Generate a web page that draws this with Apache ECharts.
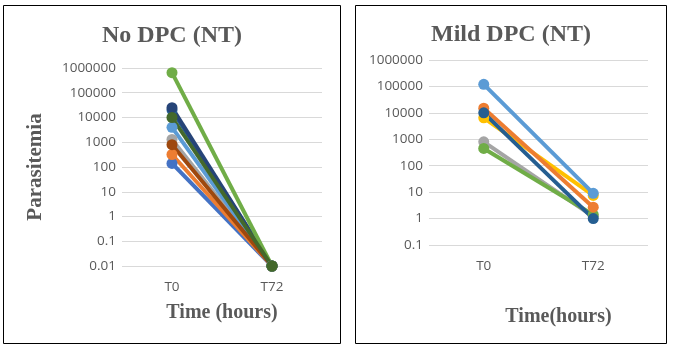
<!DOCTYPE html>
<html>
<head>
<meta charset="utf-8">
<script src="https://cdn.jsdelivr.net/npm/echarts@6/dist/echarts.min.js"></script>
<style>
html,body{margin:0;padding:0;background:#fff;}
#chart{width:674px;height:351px;}
</style>
</head>
<body>
<div id="chart"></div>
<script>
// ---- Data ----
const categories = ['T0', 'T72'];

// No DPC (NT) panel: parasitemia at T0 and T72
const ntBlue       = [140, 0.01];
const ntOrange     = [320, 0.01];
const ntGray       = [1300, 0.01];
const ntLightBlue  = [4000, 0.01];
const ntDarkOrange = [800, 0.01];
const ntNavy       = [25000, 0.01];
const ntSteel      = [20000, 0.01];
const ntGreen      = [650000, 0.01];
const ntDarkGreen  = [10000, 0.01];

// Mild DPC (NT) panel
const mildGray      = [800, 1.2];
const mildGreen     = [450, 1.4];
const mildYellow    = [6500, 7.5];
const mildOrange    = [15000, 2.7];
const mildLightBlue = [120000, 9];
const mildDarkBlue  = [10000, 1];

const leftTickLabels  = ['0.01','0.1','1','10','100','1000','10000','100000','1000000'];
const rightTickLabels = ['0.1','1','10','100','1000','10000','100000','1000000'];

// ---- Chart ----
const labelColor = '#595959';
const serif = '"Liberation Serif","Times New Roman",serif';
const sans = '"Open Sans","Liberation Sans",sans-serif';

function fmt(labels) {
  return function (v) {
    let best = labels[0], bd = Infinity;
    labels.forEach(function (l) {
      const d = Math.abs(Math.log10(parseFloat(l)) - Math.log10(v));
      if (d < bd) { bd = d; best = l; }
    });
    return best;
  };
}

function line(name, data, color, idx, size) {
  return {
    name: name, type: 'line', data: data,
    xAxisIndex: idx, yAxisIndex: idx,
    symbol: 'circle', symbolSize: size,
    lineStyle: { width: 4, color: color },
    itemStyle: { color: color },
    emphasis: { disabled: true },
    animation: false
  };
}

const chart = echarts.init(document.getElementById('chart'), null, { renderer: 'canvas' });
chart.setOption({
  backgroundColor: '#fff',
  animation: false,
  title: [
    { text: 'No DPC (NT)', left: 167, top: 19, textAlign: 'center',
      textStyle: { fontFamily: serif, fontWeight: 'bold', fontSize: 24, color: labelColor } },
    { text: 'Mild DPC (NT)', left: 506, top: 18, textAlign: 'center',
      textStyle: { fontFamily: serif, fontWeight: 'bold', fontSize: 24, color: labelColor } }
  ],
  graphic: [
    { type: 'rect', shape: { x: 3.5, y: 5.5, width: 337, height: 338 },
      style: { fill: null, stroke: '#000', lineWidth: 1 }, silent: true, z: -1 },
    { type: 'rect', shape: { x: 355.5, y: 5.5, width: 311, height: 338 },
      style: { fill: null, stroke: '#000', lineWidth: 1 }, silent: true, z: -1 }
  ],
  grid: [
    { left: 122, right: 352, top: 68, bottom: 85 },
    { left: 429, right: 26, top: 60, bottom: 106 }
  ],
  xAxis: [
    { type: 'category', data: categories, gridIndex: 0, boundaryGap: true,
      axisLine: { show: false }, axisTick: { show: false },
      axisLabel: { color: labelColor, fontFamily: sans, fontSize: 13.5, margin: 14 },
      name: 'Time (hours)', nameLocation: 'middle', nameGap: 37,
      nameTextStyle: { fontFamily: serif, fontWeight: 'bold', fontSize: 20, color: labelColor } },
    { type: 'category', data: categories, gridIndex: 1, boundaryGap: true,
      axisLine: { show: false }, axisTick: { show: false },
      axisLabel: { color: labelColor, fontFamily: sans, fontSize: 13.5, margin: 14 },
      name: 'Time(hours)', nameLocation: 'middle', nameGap: 62,
      nameTextStyle: { fontFamily: serif, fontWeight: 'bold', fontSize: 20, color: labelColor,
        padding: [0, 0, 0, 40] } }
  ],
  yAxis: [
    { type: 'log', logBase: 10, gridIndex: 0, min: 0.01, max: 1000000, interval: 1,
      axisLine: { show: false }, axisTick: { show: false },
      splitLine: { lineStyle: { color: '#d9d9d9', width: 1 } },
      axisLabel: { color: labelColor, fontFamily: sans, fontSize: 13.5, margin: 6, formatter: fmt(leftTickLabels) },
      name: 'Parasitemia', nameLocation: 'middle', nameGap: 76, nameRotate: 90,
      nameTextStyle: { fontFamily: serif, fontWeight: 'bold', fontSize: 21, color: labelColor } },
    { type: 'log', logBase: 10, gridIndex: 1, min: 0.1, max: 1000000, interval: 1,
      axisLine: { show: false }, axisTick: { show: false },
      splitLine: { lineStyle: { color: '#d9d9d9', width: 1 } },
      axisLabel: { color: labelColor, fontFamily: sans, fontSize: 13.5, margin: 6, formatter: fmt(rightTickLabels) } }
  ],
  series: [
    line('NT1', ntBlue, '#4472C4', 0, 11),
    line('NT2', ntOrange, '#ED7D31', 0, 11),
    line('NT3', ntGray, '#A5A5A5', 0, 11),
    line('NT4', ntLightBlue, '#5B9BD5', 0, 11),
    line('NT5', ntDarkOrange, '#9E480E', 0, 11),
    line('NT6', ntSteel, '#255E91', 0, 11),
    line('NT7', ntNavy, '#264478', 0, 11),
    line('NT8', ntGreen, '#70AD47', 0, 11),
    line('NT9', ntDarkGreen, '#43682B', 0, 11),
    line('M1', mildGray, '#A5A5A5', 1, 11),
    line('M2', mildGreen, '#70AD47', 1, 11),
    line('M3', mildYellow, '#FFC000', 1, 11),
    line('M4', mildOrange, '#ED7D31', 1, 11),
    line('M5', mildLightBlue, '#5B9BD5', 1, 11),
    line('M6', mildDarkBlue, '#255E91', 1, 11)
  ]
});
</script>
</body>
</html>
